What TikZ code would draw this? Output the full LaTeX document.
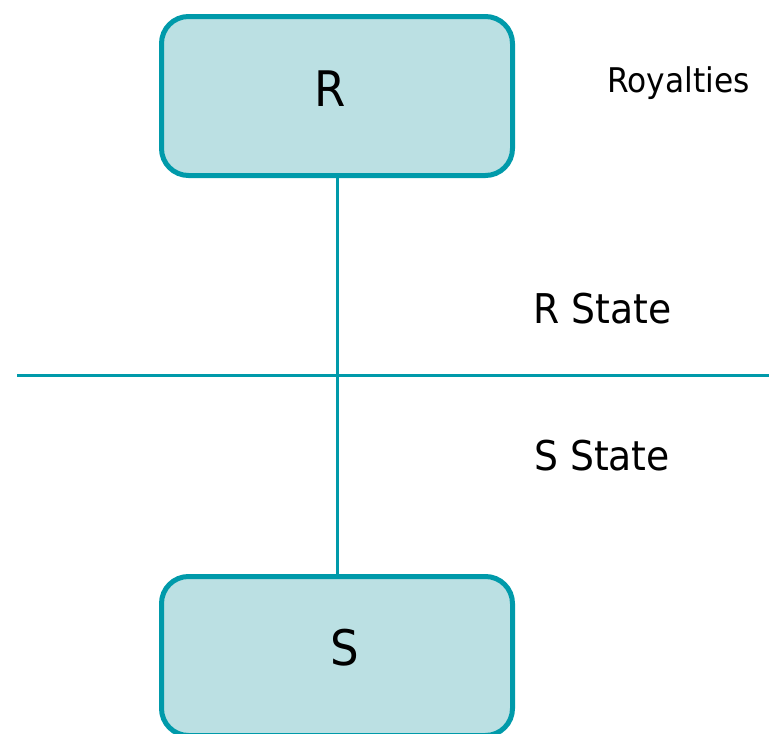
\documentclass[tikz,border=0pt]{standalone}
\usepackage{fontspec}
\newfontfamily\tah[FakeStretch=0.92]{DejaVu Sans}
\definecolor{teal}{RGB}{0,154,170}
\definecolor{boxfill}{RGB}{187,224,227}
\tikzset{
  statebox/.style={draw=teal, fill=boxfill, line width=5pt, rounded corners=27pt,
    minimum width=351pt, minimum height=159pt, inner sep=0pt},
  conn/.style={draw=teal, line width=3pt},
  boxtext/.style={font=\tah\fontsize{49}{58}\selectfont, anchor=base, inner sep=0pt},
  sidetext/.style={font=\tah\fontsize{41}{49}\selectfont, anchor=base west, inner sep=0pt},
  smalltext/.style={font=\tah\fontsize{34}{41}\selectfont, anchor=base west, inner sep=0pt}
}
\begin{document}
\begin{tikzpicture}[x=1pt,y=-1pt]
\useasboundingbox (0,0) rectangle (769,734);
\clip (0,0) rectangle (769,734);
\node[statebox] (R) at (337,96) {};
\node[statebox] (S) at (337,656) {};
\node[boxtext] (Rt) at (330,106) {R};
\node[boxtext] (St) at (345,665) {S};
\coordinate (hl) at (17,375);
\coordinate (hr) at (769,375);
\draw[conn] (hl) -- (hr);
\draw[conn] (R.south) -- (S.north);
\node[smalltext] (roy) at (607,92) {Royalties};
\node[sidetext] (rs) at (533,323) {R State};
\node[sidetext] (ss) at (534,470) {S State};
\end{tikzpicture}
\end{document}
